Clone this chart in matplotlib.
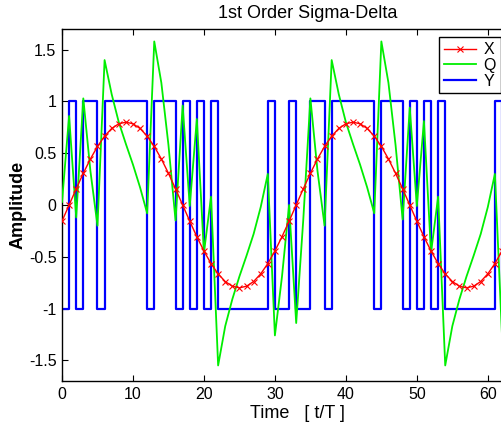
import matplotlib
matplotlib.use('Agg')
import matplotlib.pyplot as plt
import numpy as np

plt.rcParams['font.family'] = ['Liberation Sans', 'DejaVu Sans']
plt.rcParams['axes.unicode_minus'] = False

# sample index
t = np.arange(63)

# input sine X
X = [-0.1561, 0.0, 0.1561, 0.3062, 0.4445, 0.5657, 0.6652, 0.7391, 0.7846, 0.8,
     0.7846, 0.7391, 0.6652, 0.5657, 0.4445, 0.3062, 0.1561, 0.0, -0.1561, -0.3062,
     -0.4445, -0.5657, -0.6652, -0.7391, -0.7846, -0.8, -0.7846, -0.7391, -0.6652, -0.5657,
     -0.4445, -0.3062, -0.1561, 0.0, 0.1561, 0.3062, 0.4445, 0.5657, 0.6652, 0.7391,
     0.7846, 0.8, 0.7846, 0.7391, 0.6652, 0.5657, 0.4445, 0.3062, 0.1561, 0.0,
     -0.1561, -0.3062, -0.4445, -0.5657, -0.6652, -0.7391, -0.7846, -0.8, -0.7846, -0.7391,
     -0.6652, -0.5657, -0.4445]

# integrator output Q
Q = [0.03, 0.86, -0.12, 1.03, 0.33, -0.20, 1.40, 1.07, 0.80, 0.59,
     0.39, 0.17, -0.08, 1.58, 1.18, 0.58, -0.15, 0.96, -0.01, 0.83,
     -0.46, 0.08, -1.55, -1.17, -0.91, -0.69, -0.49, -0.28, -0.02, 0.30,
     -1.26, -0.69, 0.0, -1.14, -0.14, 1.03, 0.33, -0.20, 1.40, 1.07,
     0.80, 0.59, 0.39, 0.17, -0.08, 1.58, 1.18, 0.58, -0.14, 0.94,
     -0.01, 0.81, -0.46, 0.08, -1.55, -1.17, -0.91, -0.69, -0.49, -0.28,
     -0.02, 0.30, -1.26]

# 1-bit output Y
Y = [-1, 1, -1, 1, 1, -1, 1, 1, 1, 1,
     1, 1, -1, 1, 1, 1, -1, 1, -1, 1,
     -1, 1, -1, -1, -1, -1, -1, -1, -1, 1,
     -1, -1, 1, -1, -1, 1, 1, -1, 1, 1,
     1, 1, 1, 1, -1, 1, 1, 1, -1, 1,
     -1, 1, -1, 1, -1, -1, -1, -1, -1, -1,
     -1, 1, -1]

yticks = [-1.5, -1, -0.5, 0, 0.5, 1, 1.5]
yticklabels = ['-1.5', '-1', '-0.5', '0', '0.5', '1', '1.5']

fig = plt.figure(figsize=(5.02, 4.24), dpi=100)
ax = fig.add_axes([62/502, 43/424, 440/502, 352/424])

hy, = ax.step(t, Y, where='post', color='#0000ff', lw=1.6, zorder=2)
hq, = ax.plot(t, Q, color='#00ee00', lw=1.3, zorder=3)
hx, = ax.plot(t, X, color='#ff0000', lw=1.0, marker='x', ms=4, mew=0.8, zorder=4)

ax.set_xlim(0, 62)
ax.set_ylim(-1.7, 1.7)
ax.set_xticks(range(0, 61, 10))
ax.set_yticks(yticks)
ax.set_yticklabels(yticklabels)
ax.tick_params(direction='in', length=4.5, width=0.8, labelsize=11.5, top=True, pad=4)
ax.spines['right'].set_visible(False)
for s in ['left', 'bottom', 'top']:
    ax.spines[s].set_linewidth(1.0)

ax.set_xlabel('Time   [ t/T ]', fontsize=13)
ax.xaxis.set_label_coords(0.535, -0.069)
ax.set_ylabel('Amplitude', fontsize=13, fontweight='bold')
ax.yaxis.set_label_coords(-0.081, 0.5)
ax.text(0.559, 1.032, '1st Order Sigma-Delta', transform=ax.transAxes,
        ha='center', va='baseline', fontsize=13)

leg = ax.legend([hx, hq, hy], ['X', 'Q', 'Y'], loc='upper right',
                bbox_to_anchor=(500.7/502, 1 - 37.3/424), bbox_transform=fig.transFigure,
                borderaxespad=0, fancybox=False, framealpha=1, edgecolor='black',
                fontsize=11.5, handlelength=2.0, handletextpad=0.5,
                labelspacing=0.05, borderpad=0.3)
leg.get_frame().set_linewidth(1.0)

fig.savefig('out.png', dpi=100)
